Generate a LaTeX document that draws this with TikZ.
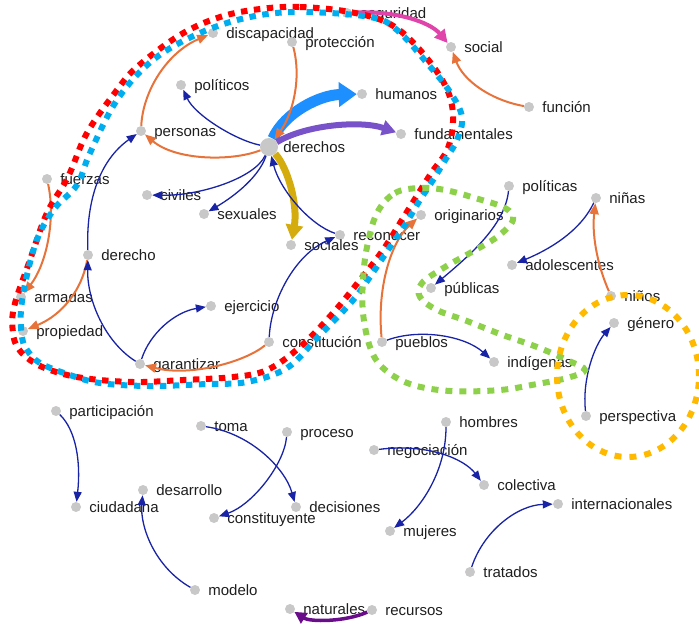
\documentclass[tikz,border=0pt]{standalone}
\usepackage{fontspec}
\setmainfont{Liberation Sans}
\usetikzlibrary{arrows.meta}
\definecolor{dotgray}{RGB}{200,200,200}
\definecolor{txt}{RGB}{30,30,30}
\definecolor{eblue}{RGB}{25,35,165}
\definecolor{eorange}{RGB}{232,115,58}
\definecolor{tblue}{RGB}{30,143,255}
\definecolor{tpurple}{RGB}{120,82,200}
\definecolor{tgold}{RGB}{212,172,13}
\definecolor{tpink}{RGB}{224,68,170}
\definecolor{dpurple}{RGB}{106,13,138}
\definecolor{hred}{RGB}{255,0,0}
\definecolor{hblue}{RGB}{0,174,239}
\definecolor{hgreen}{RGB}{141,208,74}
\definecolor{hyellow}{RGB}{255,186,0}
\tikzset{
  dot/.style={circle,fill=dotgray,inner sep=0pt,minimum size=10pt},
  bigdot/.style={circle,fill=dotgray,inner sep=0pt,minimum size=18pt},
  lbl/.style={inner sep=0pt,label distance=8pt,text=txt,font=\fontsize{15pt}{18pt}\selectfont,text height=11pt,text depth=0pt},
  bluee/.style={draw=eblue,line width=1.3pt,-{Triangle[length=10pt,width=8pt]}},
  orangee/.style={draw=eorange,line width=2pt,-{Triangle[length=11pt,width=9pt]}},
  hull/.style={line width=6pt,dash pattern=on 6.5pt off 6.5pt},
}
\newcommand\kw[4]{\node[dot,label={[lbl]east:#4}] (#1) at (#2,#3) {};}
\begin{document}
\begin{tikzpicture}[x=1pt,y=-1pt]
\useasboundingbox (0,0) rectangle (699,624);
% nodes
\kw{discapacidad}{213}{33}{discapacidad}
\kw{proteccion}{292}{42}{protección}
\kw{seguridad}{347}{13}{seguridad}
\kw{social}{451}{47}{social}
\kw{politicos}{181}{85}{políticos}
\kw{humanos}{362}{94}{humanos}
\kw{funcion}{529}{107}{función}
\kw{personas}{141}{131}{personas}
\kw{fundamentales}{401}{134}{fundamentales}
\node[bigdot,label={[lbl,label distance=5pt]east:derechos}] (derechos) at (269,147) {};
\kw{fuerzas}{47}{179}{fuerzas}
\kw{civiles}{147}{195}{civiles}
\kw{sexuales}{204}{214}{sexuales}
\kw{politicas}{509}{186}{políticas}
\kw{ninas}{596}{198}{niñas}
\kw{originarios}{421}{215}{originarios}
\kw{reconocer}{340}{235}{reconocer}
\kw{sociales}{291}{245}{sociales}
\kw{derecho}{88}{255}{derecho}
\kw{adolescentes}{512}{265}{adolescentes}
\kw{publicas}{431}{288}{públicas}
\kw{armadas}{21}{297}{armadas}
\kw{ninos}{611}{296}{niños}
\kw{ejercicio}{211}{306}{ejercicio}
\kw{propiedad}{23}{331}{propiedad}
\kw{genero}{614}{323}{género}
\kw{constitucion}{269}{342}{constitución}
\kw{pueblos}{382}{342}{pueblos}
\kw{garantizar}{140}{364}{garantizar}
\kw{indigenas}{494}{362}{indígenas}
\kw{perspectiva}{586}{416}{perspectiva}
\kw{participacion}{56}{411}{participación}
\kw{toma}{201}{426}{toma}
\kw{proceso}{287}{432}{proceso}
\kw{hombres}{446}{422}{hombres}
\kw{negociacion}{374}{450}{negociación}
\kw{desarrollo}{143}{490}{desarrollo}
\kw{colectiva}{484}{485}{colectiva}
\kw{internacionales}{558}{504}{internacionales}
\kw{ciudadana}{76}{507}{ciudadana}
\kw{decisiones}{296}{507}{decisiones}
\kw{constituyente}{214}{518}{constituyente}
\kw{mujeres}{390}{531}{mujeres}
\kw{tratados}{470}{572}{tratados}
\kw{modelo}{195}{590}{modelo}
\kw{naturales}{290}{609}{naturales}
\kw{recursos}{372}{610}{recursos}
% thick edges
\draw[draw=tblue,line width=11pt,-{Triangle[length=18pt,width=24pt]}] (derechos) .. controls (285,112) and (320,95) .. (humanos);
\draw[draw=tpurple,line width=6pt,-{Triangle[length=14pt,width=15pt]}] (derechos) .. controls (305,125) and (360,120) .. (fundamentales);
\draw[draw=tgold,line width=7pt,-{Triangle[length=15pt,width=17pt]}] (derechos) .. controls (288,168) and (298,205) .. (sociales);
\draw[draw=tpink,line width=4pt,-{Triangle[length=13pt,width=13pt]}] (seguridad) .. controls (395,10) and (430,22) .. (social);
\draw[draw=dpurple,line width=3.5pt,-{Triangle[length=12pt,width=12pt]}] (recursos) .. controls (345,622) and (310,622) .. (naturales);
% orange edges
\draw[orangee] (derechos) .. controls (230,162) and (175,160) .. (personas);
\draw[orangee] (proteccion) .. controls (302,80) and (292,115) .. (derechos);
\draw[orangee] (personas) .. controls (143,90) and (168,52) .. (discapacidad);
\draw[orangee] (derecho) .. controls (82,290) and (62,315) .. (propiedad);
\draw[orangee] (fuerzas) .. controls (56,220) and (46,265) .. (armadas);
\draw[orangee] (constitucion) .. controls (245,362) and (190,377) .. (garantizar);
\draw[orangee] (pueblos) .. controls (377,290) and (390,243) .. (originarios);
\draw[orangee] (ninos) .. controls (596,262) and (592,232) .. (ninas);
\draw[orangee] (funcion) .. controls (490,100) and (463,80) .. (social);
% blue edges
\draw[bluee] (derechos) .. controls (235,140) and (195,115) .. (politicos);
\draw[bluee] (derechos) .. controls (255,178) and (200,196) .. (civiles);
\draw[bluee] (derechos) .. controls (258,180) and (228,200) .. (sexuales);
\draw[bluee] (reconocer) .. controls (310,225) and (280,190) .. (derechos);
\draw[bluee] (derecho) .. controls (86,200) and (100,160) .. (personas);
\draw[bluee] (garantizar) .. controls (105,342) and (87,300) .. (derecho);
\draw[bluee] (garantizar) .. controls (150,333) and (175,312) .. (ejercicio);
\draw[bluee] (constitucion) .. controls (271,300) and (295,255) .. (reconocer);
\draw[bluee] (pueblos) .. controls (420,328) and (465,336) .. (indigenas);
\draw[bluee] (politicas) .. controls (505,225) and (470,255) .. (publicas);
\draw[bluee] (ninas) .. controls (580,232) and (548,250) .. (adolescentes);
\draw[bluee] (perspectiva) .. controls (582,378) and (595,345) .. (genero);
\draw[bluee] (participacion) .. controls (76,430) and (81,462) .. (ciudadana);
\draw[bluee] (toma) .. controls (250,433) and (285,468) .. (decisiones);
\draw[bluee] (proceso) .. controls (284,465) and (252,505) .. (constituyente);
\draw[bluee] (modelo) .. controls (155,567) and (140,527) .. (desarrollo);
\draw[bluee] (hombres) .. controls (446,470) and (422,507) .. (mujeres);
\draw[bluee] (negociacion) .. controls (430,443) and (465,460) .. (colectiva);
\draw[bluee] (tratados) .. controls (484,530) and (518,505) .. (internacionales);
% hulls
\draw[hull,draw=hred] plot[smooth cycle,tension=0.6] coordinates {(260,9) (300,7) (350,12) (390,24) (420,50) (445,85) (453,115) (448,148) (430,175) (405,215) (383,250) (360,280) (333,313) (300,347) (267,370) (233,377) (183,380) (133,382) (83,378) (50,370) (30,360) (18,348) (13,333) (14,307) (30,260) (47,213) (68,177) (87,133) (117,90) (137,67) (180,35) (220,17)};
\draw[hull,draw=hblue,dash phase=6.5pt] plot[smooth cycle,tension=0.6] coordinates {(250,17) (300,12) (370,17) (397,30) (427,63) (450,92) (462,117) (457,140) (447,157) (433,180) (420,200) (405,225) (390,247) (363,287) (347,307) (317,338) (287,368) (247,382) (207,384) (150,386) (100,383) (67,374) (40,363) (27,350) (22,337) (21,310) (27,275) (38,237) (55,208) (77,185) (90,153) (117,100) (153,60) (200,33)};
\draw[hull,draw=hgreen,dash pattern=on 7pt off 7pt] plot[smooth cycle,tension=0.6] coordinates {(377,213) (395,193) (420,188) (445,190) (475,198) (505,208) (513,220) (497,237) (470,253) (445,267) (422,283) (420,297) (437,310) (467,321) (500,334) (537,347) (567,360) (585,370) (567,378) (537,384) (500,390) (450,391) (410,384) (383,368) (370,347) (363,313) (363,280) (367,247)};
\draw[hull,draw=hyellow,dash pattern=on 7pt off 8pt] (628,376) ellipse [x radius=71pt,y radius=81pt];
\end{tikzpicture}
\end{document}
